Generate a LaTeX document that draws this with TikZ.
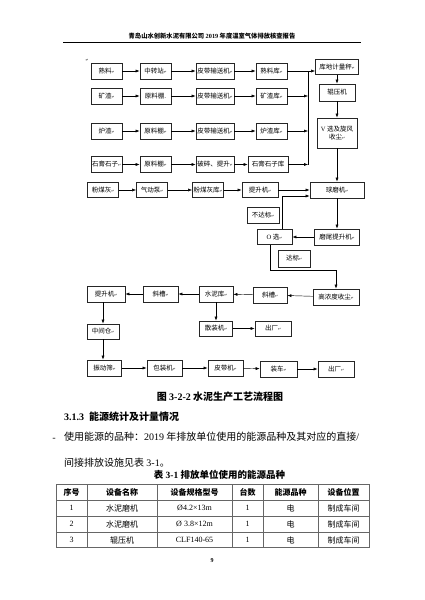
\documentclass[tikz,border=0pt]{standalone}
\usepackage{fontspec}
\setmainfont{Noto Sans CJK SC}
\newfontfamily\lat{Liberation Serif}
\newfontfamily\symb{DejaVu Sans}
\usetikzlibrary{arrows.meta}
\newcommand\rt{{\symb\fontsize{3.5}{4}\selectfont ↵}}

\begin{document}
\begin{tikzpicture}[
  x=1pt, y=-1pt,
  >={Latex[length=4pt,width=3pt]},
  proc/.style={draw=black!85, line width=.7pt, fill=white, minimum width=31pt, minimum height=16pt, inner sep=1pt, font=\fontsize{6.5}{7.5}\selectfont},
  flow/.style={->, line width=.45pt},
  body/.style={inner sep=0pt, font=\fontsize{10}{12}\selectfont},
  cell/.style={inner sep=0pt, font=\fontsize{8}{9}\selectfont},
  tbl/.style={draw=black!60, line width=.8pt},
]
\fill[white] (0,0) rectangle (424,600);
\useasboundingbox (0,0) rectangle (424,600);

% ---------- page header ----------
\node[font=\fontsize{6.3}{7}\selectfont\bfseries] (head) at (212,36) {青岛山水创新水泥有限公司 {\lat 2019} 年度温室气体排放核查报告};
\draw[line width=.6pt] (63,42) -- (361,42);

% ---------- raw material lines ----------
\node (pm) at (87,60) {\rt};
\node[proc] (sl1) at (106.5,71)  {熟料\rt};
\node[proc] (zz)  at (155.5,71)  {中转站\rt};
\node[proc, minimum width=38pt] (pd1) at (215,71) {皮带输送机\rt};
\node[proc] (slk) at (271.5,71)  {熟料库\rt};

\node[proc] (kz)  at (106.5,96)  {矿渣\rt};
\node[proc] (yl1) at (155.5,96)  {原料棚.};
\node[proc, minimum width=38pt] (pd2) at (215,96) {皮带输送机\rt};
\node[proc] (kzk) at (271.5,96)  {矿渣库\rt};

\node[proc] (lz)  at (106.5,131) {炉渣\rt};
\node[proc] (yl2) at (155.5,131) {原料棚\rt};
\node[proc, minimum width=38pt] (pd3) at (215,131) {皮带输送机\rt};
\node[proc] (lzk) at (271.5,131) {炉渣库\rt};

\node[proc] (sg)  at (106.5,164.5) {石膏石子\rt};
\node[proc] (yl3) at (155.5,164.5) {原料棚\rt};
\node[proc, minimum width=38pt] (ps) at (215,164.5) {破碎、提升\rt};
\node[proc, minimum width=40pt] (sgk) at (268,164.5) {石膏石子库};

\foreach \a/\b in {sl1/zz, zz/pd1, pd1/slk, kz/yl1, yl1/pd2, pd2/kzk,
                   lz/yl2, yl2/pd3, pd3/lzk, sg/yl3, yl3/ps, ps/sgk}
  \draw[flow] (\a) -- (\b);

% ---------- grinding column ----------
\node[proc, minimum width=43pt, minimum height=15pt] (jl) at (337,67) {库地计量秤\rt};
\node[proc, minimum width=36pt, minimum height=17pt] (gy) at (337,92.5) {辊压机};
\node[proc, minimum width=40pt, minimum height=30pt, align=center] (vx) at (337,133) {{\lat V} 选及旋风\\收尘\rt};

\coordinate (bt) at (308,71);
\coordinate (bb) at (308,164.5);
\draw[line width=.45pt] (bt) -- (bb);
\draw[flow] (slk.east) -- (slk.east -| jl.west);
\foreach \k in {kzk, lzk, sgk}
  \draw[flow] (\k.east) -- (\k.east -| bt);

\node[proc, minimum height=15pt] (fmh) at (103,190) {粉煤灰\rt};
\node[proc, minimum height=15pt] (qdb) at (152,190) {气动泵\rt};
\node[proc, minimum height=15pt] (fmk) at (208,190) {粉煤灰库\rt};
\node[proc, minimum width=36pt, minimum height=15pt] (tsj) at (260,190) {提升机\rt};
\node[proc, minimum width=54pt] (qmj) at (337,190) {球磨机\rt};

\foreach \a/\b in {fmh/qdb, qdb/fmk, fmk/tsj, tsj/qmj, jl/gy, gy/vx, vx/qmj}
  \draw[flow] (\a) -- (\b);

% ---------- separator loop ----------
\node[proc, minimum width=32pt] (bdb) at (263,215) {不达标\rt};
\node[proc, minimum width=35pt, minimum height=15pt] (ox) at (274.5,237) {{\lat O} 选\rt};
\node[proc, minimum width=45pt] (mw) at (337,237) {磨尾提升机\rt};
\node[proc, minimum width=32pt, minimum height=17pt] (db) at (294,258.5) {达标\rt};
\node[proc, minimum width=46pt] (gn) at (336,297) {高浓度收尘\rt};

\draw[flow] (qmj) -- (mw);
\draw[flow] (mw) -- (ox);
\draw[flow] ([xshift=8pt]ox.north) |- ([yshift=-6pt]qmj.west);
\coordinate (tw) at (336,270);
\draw[flow] ([xshift=-4pt]ox.south) |- (tw) -- (gn.north);

% ---------- cement storage and dispatch ----------
\node[proc, minimum width=38pt] (tsj2) at (106,294) {提升机\rt};
\node[proc, minimum width=35pt] (xc1)  at (160.5,294) {斜槽\rt};
\node[proc, minimum width=34pt] (snk)  at (216,294) {水泥库\rt};
\node[proc, minimum width=34pt] (xc2)  at (270,295) {斜槽\rt};
\node[proc, minimum width=33pt, minimum height=15pt] (szj) at (216,328.5) {散装机\rt};
\node[proc, minimum width=36pt, minimum height=15pt] (cc1) at (273,328.5) {出厂\rt};
\node[proc, minimum width=32pt, minimum height=15pt] (zjc) at (103,331.5) {中间仓\rt};

\foreach \a/\b in {gn/xc2, xc2/snk, snk/xc1, xc1/tsj2, snk/szj, szj/cc1}
  \draw[flow] (\a) -- (\b);
\draw[flow] (zjc.north |- tsj2.south) -- (zjc.north);

\node[proc, minimum width=34pt] (zds) at (104.5,368) {振动筛\rt};
\node[proc, minimum width=35pt] (bzj) at (164.5,368) {包装机\rt};
\node[proc, minimum width=35pt] (pdj) at (225.5,368) {皮带机\rt};
\node[proc, minimum width=37pt] (zc)  at (278.5,369) {装车\rt};
\node[proc, minimum width=36pt] (cc2) at (336,369)  {出厂\rt};

\draw[flow] (zjc.south) -- (zjc.south |- zds.north);
\foreach \a/\b in {zds/bzj, bzj/pdj, pdj/zc, zc/cc2}
  \draw[flow] (\a) -- (\b);

% ---------- caption and text ----------
\node[body, font=\fontsize{10}{12}\selectfont\bfseries] (cap) at (220,397) {图 {\lat 3-2-2} 水泥生产工艺流程图};
\node[body, anchor=west, font=\fontsize{10}{12}\selectfont\bfseries] (sec) at (64,417) {{\lat 3.1.3}\enspace 能源统计及计量情况};
\node[body, anchor=west] (l1) at (64,437) {使用能源的品种：{\lat 2019} 年排放单位使用的能源品种及其对应的直接{\lat /}};
\node[body, anchor=base east, yshift=-0.3pt] (dash) at ([xshift=-8pt]l1.base west) {-};
\node[body, anchor=west] (l2) at (64,463) {间接排放设施见表 {\lat 3-1}。};
\node[body, font=\fontsize{9.5}{11}\selectfont\bfseries] (tcap) at (219.5,475) {表 {\lat 3-1} 排放单位使用的能源品种};

% ---------- table ----------
\draw[tbl] (56,484) rectangle (369,547);
\foreach \y in {500,516,532}
  \draw[tbl] (56,\y) -- (369,\y);
\foreach \x in {87,157,232,263,318}
  \draw[tbl] (\x,484) -- (\x,547);

\foreach \x/\t [count=\i] in {71.5/序号, 122/设备名称, 194.5/设备规格型号, 247.5/台数, 290.5/能源品种, 343.5/设备位置}
  \node[cell, font=\fontsize{8}{9}\selectfont\bfseries] (th\i) at (\x,492) {\t};
\foreach \x/\t [count=\i] in {71.5/{\lat 1}, 122/水泥磨机, 194.5/{\lat Ø4.2×13m}, 247.5/{\lat 1}, 290.5/电, 343.5/制成车间}
  \node[cell] (ra\i) at (\x,508) {\t};
\foreach \x/\t [count=\i] in {71.5/{\lat 2}, 122/水泥磨机, 194.5/{\lat Ø 3.8×12m}, 247.5/{\lat 1}, 290.5/电, 343.5/制成车间}
  \node[cell] (rb\i) at (\x,524) {\t};
\foreach \x/\t [count=\i] in {71.5/{\lat 3}, 122/辊压机, 194.5/{\lat CLF140-65}, 247.5/{\lat 1}, 290.5/电, 343.5/制成车间}
  \node[cell] (rc\i) at (\x,540) {\t};

\node[font=\fontsize{6}{7}\selectfont\bfseries\lat] (pg) at (212,561) {9};

\end{tikzpicture}
\end{document}
